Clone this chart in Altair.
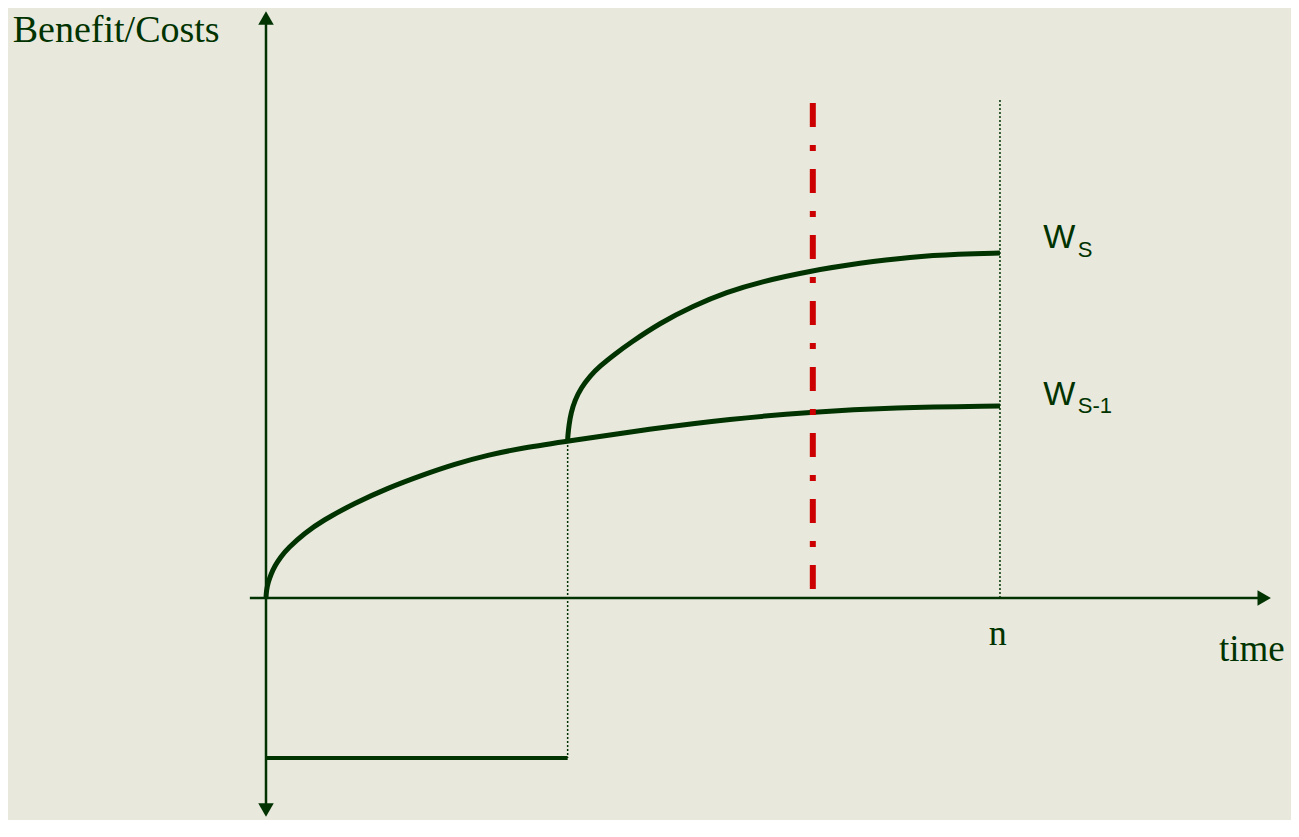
import altair as alt
import pandas as pd

# ---- data (time units: origin 0, n = 10; value units arbitrary) ----
ws1_t = [0.0, 0.005, 0.03, 0.07, 0.12, 0.20, 0.30, 0.53, 0.76, 1.21, 1.66, 2.13, 2.57, 3.02, 3.49,
         4.11, 5.23, 6.32, 7.41, 8.54, 10.0]
ws1_v = [0.0, 0.07, 0.16, 0.24, 0.32, 0.41, 0.50, 0.65, 0.77, 0.95, 1.10, 1.23, 1.34, 1.43, 1.50,
         1.57, 1.69, 1.79, 1.86, 1.905, 1.92]

ws_t = [4.11, 4.112, 4.128, 4.155, 4.21, 4.292, 4.414, 4.55, 4.755, 4.959, 5.368, 5.817, 6.281, 6.73,
        7.411, 8.093, 8.774, 9.455, 10.0]
ws_v = [1.57, 1.62, 1.73, 1.85, 1.98, 2.10, 2.22, 2.32, 2.44, 2.55, 2.75, 2.92, 3.06, 3.16,
        3.27, 3.35, 3.41, 3.44, 3.45]

switch_t = 4.11      # time of switching
cost_v = -1.6        # investment cost level
n_t = 10.0           # horizon n
cut_t = 7.45         # red dash-dot line
ticks_labels = ["n"]

GREEN = "#003300"
RED = "#CC0000"
BG = "#E8E8DC"

W, H = 1283, 812
XD = [-3.515, 13.965]
YD = [-2.22, 5.90]

def X(f="t"):
    return alt.X(f"{f}:Q", scale=alt.Scale(domain=XD, nice=False, zero=False), axis=None)

def Y(f="v"):
    return alt.Y(f"{f}:Q", scale=alt.Scale(domain=YD, nice=False, zero=False), axis=None)

df_ws1 = pd.DataFrame({"t": ws1_t, "v": ws1_v, "i": range(len(ws1_t))})
df_ws = pd.DataFrame({"t": ws_t, "v": ws_v, "i": range(len(ws_t))})

# axes
axes_df = pd.DataFrame({
    "t": [0.0, -0.22], "v": [-2.1, 0.0], "t2": [0.0, 13.55], "v2": [5.75, 0.0]
})
axes = alt.Chart(axes_df).mark_rule(color=GREEN, strokeWidth=2.5).encode(
    x=X("t"), y=Y("v"), x2="t2:Q", y2="v2:Q")

arrows_df = pd.DataFrame({
    "t": [0.0, 0.0, 13.6], "v": [5.80, -2.12, 0.0],
    "shape": ["triangle-up", "triangle-down", "triangle-right"]
})
arrows = alt.Chart(arrows_df).mark_point(filled=True, color=GREEN, opacity=1, size=240).encode(
    x=X("t"), y=Y("v"), shape=alt.Shape("shape:N", scale=None))

# dotted guides
dots_df = pd.DataFrame({"t": [n_t, switch_t], "v": [4.98, ws_v[0]], "v2": [0.0, cost_v]})
dots = alt.Chart(dots_df).mark_rule(color=GREEN, strokeWidth=1.5, strokeDash=[2, 2]).encode(
    x=X("t"), y=Y("v"), y2="v2:Q")

# cost line
cost_df = pd.DataFrame({"t": [0.0], "t2": [switch_t], "v": [cost_v]})
cost = alt.Chart(cost_df).mark_rule(color=GREEN, strokeWidth=4).encode(
    x=X("t"), x2="t2:Q", y=Y("v"))

line_ws1 = alt.Chart(df_ws1).mark_line(color=GREEN, strokeWidth=5, interpolate="basis").encode(
    x=X("t"), y=Y("v"), order="i:Q")
line_ws = alt.Chart(df_ws).mark_line(color=GREEN, strokeWidth=5, interpolate="basis").encode(
    x=X("t"), y=Y("v"), order="i:Q")

# red dash-dot
red_df = pd.DataFrame({"t": [cut_t], "v": [4.95], "v2": [0.08]})
red = alt.Chart(red_df).mark_rule(color=RED, strokeWidth=6, strokeDash=[24, 18, 6, 18]).encode(
    x=X("t"), y=Y("v"), y2="v2:Q")

# texts
serif_df = pd.DataFrame({"t": [-3.45], "v": [5.56], "label": ["Benefit/Costs"]})
serif_txt = alt.Chart(serif_df).mark_text(font="Liberation Serif", fontSize=38, color=GREEN,
                                          align="left", baseline="alphabetic").encode(
    x=X("t"), y=Y("v"), text="label:N")

time_df = pd.DataFrame({"t": [13.88], "v": [-0.63], "label": ["time"]})
time_txt = alt.Chart(time_df).mark_text(font="Liberation Serif", fontSize=37, color=GREEN,
                                        align="right", baseline="alphabetic").encode(
    x=X("t"), y=Y("v"), text="label:N")

n_df = pd.DataFrame({"t": [9.97], "v": [-0.47], "label": ticks_labels})
n_txt = alt.Chart(n_df).mark_text(font="Liberation Serif", fontSize=36, color=GREEN,
                                  align="center", baseline="alphabetic").encode(
    x=X("t"), y=Y("v"), text="label:N")

w_df = pd.DataFrame({"t": [10.59, 10.59], "v": [3.50, 1.93], "label": ["W", "W"]})
w_txt = alt.Chart(w_df).mark_text(font="Liberation Sans", fontSize=34, color=GREEN,
                                  align="left", baseline="alphabetic").encode(
    x=X("t"), y=Y("v"), text="label:N")

sub_df = pd.DataFrame({"t": [11.06, 11.06], "v": [3.41, 1.85], "label": ["S", "S-1"]})
sub_txt = alt.Chart(sub_df).mark_text(font="Liberation Sans", fontSize=22, color=GREEN,
                                      align="left", baseline="alphabetic").encode(
    x=X("t"), y=Y("v"), text="label:N")

chart = alt.layer(
    axes, dots, cost, line_ws1, line_ws, red, arrows, serif_txt, time_txt, n_txt, w_txt, sub_txt
).properties(
    width=W, height=H, background=BG, padding=0,
    autosize=alt.AutoSizeParams(type="none")
).configure_view(stroke=None)

chart.save("out.html", embed_options={"renderer": "svg", "actions": False})
